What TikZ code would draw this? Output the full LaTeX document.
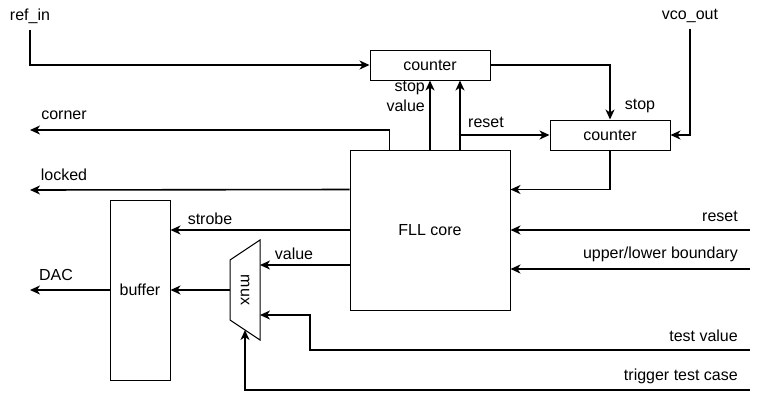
\documentclass[tikz,border=0pt]{standalone}
\usepackage{fontspec}
\setmainfont{Liberation Sans}
\usetikzlibrary{arrows.meta,calc,positioning}

\begin{document}
\begin{tikzpicture}
    \tikzset{x=1pt,y=-1pt,every path/.style={>={Stealth[length=10pt,width=9pt,inset=3pt]}},
      blk/.style={draw,line width=1pt,inner sep=0pt,font=\fontsize{16}{19}\selectfont},
      sig/.style={->,line width=1.6pt},
      lbl/.style={inner sep=0pt,font=\fontsize{16}{20}\selectfont}}
    \useasboundingbox (0,0) rectangle (760,400);
    \node [blk,minimum width=120pt,minimum height=30pt]   (c1) at (430,65)  {counter};
    \node [blk,minimum width=120pt,minimum height=30pt]   (c2) at (610,135)  {counter};
    \node [blk,minimum width=160pt,minimum height=160pt]   (core) at (430,230)  {FLL core};
    \node [blk,minimum width=60pt,minimum height=180pt]   (buf) at (140,290)  {buffer};
    \node [lbl,rotate=-90]   (mux) at (245,290)  {mux};
    \draw [line width=1pt] (230,260) -- (260,240) -- (260,340) -- (230,320) -- cycle;
    \coordinate (mo) at (230,290);
    \coordinate (mv) at (260,265);
    \coordinate (mt) at (260,315);
    \coordinate (ms) at (245,330);
    \coordinate (pcorner) at (30,130);
    \coordinate (plocked) at (30,190);
    \coordinate (pdac) at (30,290);
    \coordinate (pres) at (750,230);
    \coordinate (pbound) at (750,269);
    \coordinate (ptest) at (750,350);
    \coordinate (ptrig) at (750,390);
    \node [lbl]   (refin) at (30,16)  {ref\_in};
    \node [lbl]   (vco) at (690,16)  {vco\_out};
    \node [lbl,align=right,anchor=east]   (sv) at (425,96)  {stop\\value};
    \node [lbl]   (rs1) at (486,122)  {reset};
    \node [lbl]   (st) at (640,106)  {stop};
    \node [lbl]   (lc) at (64,115)  {corner};
    \node [lbl]   (ll) at (64,175)  {locked};
    \node [lbl]   (ls) at (210,219)  {strobe};
    \node [lbl]   (lv) at (294,254)  {value};
    \node [lbl]   (ld) at (56,275)  {DAC};
    \node [lbl,anchor=east]   (lr) at (738,216)  {reset};
    \node [lbl,anchor=east]   (lb) at (738,254)  {upper/lower boundary};
    \node [lbl,anchor=east]   (lt) at (738,336)  {test value};
    \node [lbl,anchor=east]   (lg) at (738,376)  {trigger test case};
    \draw [sig] ([yshift=-6pt]refin.south) |- (c1.west);
    \draw [sig] ([yshift=-6pt]vco.south) |- (c2.east);
    \draw [sig] (c1.east) -| (c2.north);
    \draw [sig] (c2.south) |- ($(core.north east)+(0,40)$);
    \draw [sig] (core.north) -- (c1.south);
    \draw [sig] ($(core.north)+(30,0)$) -- ($(c1.south)+(30,0)$);
    \draw [sig] ($(core.north)+(30,0)$) |- (c2.west);
    \draw [sig] ($(core.north west)+(40,0)$) |- (pcorner);
    \draw [sig] ($(core.north west)+(0,40)$) -- (plocked);
    \draw [sig] (core.west) -- (core.west -| buf.east);
    \draw [sig] ($(core.west)+(0,35)$) -- (mv);
    \draw [sig] (mo) -- (buf.east);
    \draw [sig] (buf.west) -- (pdac);
    \draw [sig] (pres) -- (core.east);
    \draw [sig] (pbound) -- (pbound -| core.east);
    \draw [sig] (ptest) -| ($(mt)+(50,0)$) -- (mt);
    \draw [sig] (ptrig) -| (ms);
\end{tikzpicture}
\end{document}
